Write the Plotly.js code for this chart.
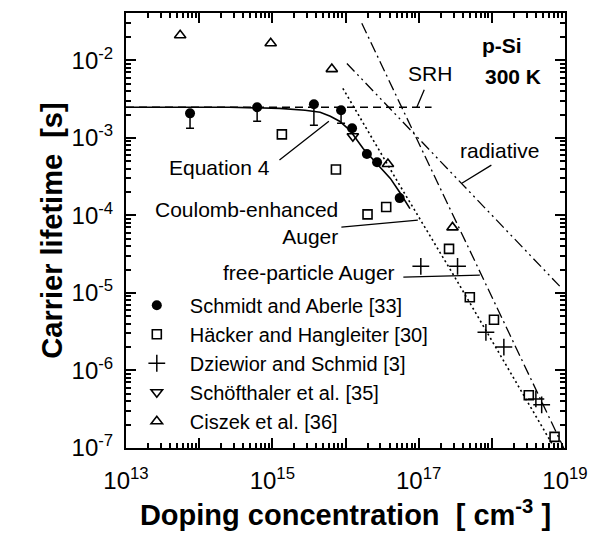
<!DOCTYPE html>
<html>
<head>
<meta charset="utf-8">
<script src="https://cdn.plot.ly/plotly-3.0.1.min.js"></script>
<style>html,body{margin:0;padding:0;background:#fff;}#chart{width:592px;height:552px;}</style>
</head>
<body>
<div id="chart"></div>
<script>
// ---------- data ----------
// Schmidt and Aberle [33] (filled circles, downward error bars)
const schmidtN   = [7.5e13, 6.2e14, 3.7e15, 8.7e15, 1.23e16, 1.96e16, 2.7e16, 5.5e16];
const schmidtTau = [2.07e-3, 2.48e-3, 2.71e-3, 2.27e-3, 1.33e-3, 6.2e-4, 4.85e-4, 1.67e-4];
const schmidtErrMinus = [0.74e-3, 0.84e-3, 1.26e-3, 0.73e-3, 0, 0, 0, 0];
const schmidtErrPlus  = [0, 0, 0, 0, 0, 0, 0, 0];
// Häcker and Hangleiter [30] (open squares)
const hackerN   = [1.35e15, 7.4e15, 2.0e16, 3.6e16, 2.6e17, 5.0e17, 1.07e18, 3.2e18, 7.2e18];
const hackerTau = [1.11e-3, 3.9e-4, 1.03e-4, 1.28e-4, 3.7e-5, 8.8e-6, 4.5e-6, 4.8e-7, 1.39e-7];
// Dziewior and Schmid [3] (plus)
const dziewiorN   = [1.07e17, 3.4e17, 8.3e17, 1.46e18, 4.0e18, 4.8e18];
const dziewiorTau = [2.2e-5, 2.2e-5, 3.1e-6, 2.0e-6, 4.3e-7, 3.6e-7];
// Schöfthaler et al. [35] (open down-triangle)
const schoefN   = [1.26e16];
const schoefTau = [1.05e-3];
// Ciszek et al. [36] (open up-triangle)
const ciszekN   = [5.5e13, 9.5e14, 6.5e15, 3.8e16, 2.9e17];
const ciszekTau = [2.1e-2, 1.66e-2, 7.7e-3, 4.6e-4, 7.0e-5];

// model curves
const srhN   = [1e13, 1.5e17];
const srhTau = [2.48e-3, 2.48e-3];
const eq4N   = [1e13, 2.6e14, 1.26e15, 2.8e15, 4.5e15, 6.2e15, 8.3e15, 1.15e16, 1.74e16, 2.7e16, 4.1e16, 5.5e16, 7.6e16];
const eq4Tau = [2.48e-3, 2.48e-3, 2.40e-3, 2.27e-3, 2.14e-3, 1.90e-3, 1.64e-3, 1.25e-3, 7.3e-4, 4.7e-4, 3.0e-4, 1.99e-4, 1.22e-4];
const coulombN   = [9.2e15, 5.5e16, 3.3e17, 6.8e18];
const coulombTau = [4.35e-3, 2.45e-4, 1.46e-5, 1.09e-7];
const freeAugerN   = [1.67e16, 9.6e18];
const freeAugerTau = [3.0e-2, 1.0e-7];
const radiativeN   = [1.045e16, 9.0e18];
const radiativeTau = [9.1e-3, 1.15e-5];

// axis ticks
const xTickVals = [1e13, 1e14, 1e15, 1e16, 1e17, 1e18, 1e19];
const xTickText = ['10<sup>13</sup>', ' ', '10<sup>15</sup>', ' ', '10<sup>17</sup>', ' ', '10<sup>19</sup>'];
const yTickVals = [1e-7, 1e-6, 1e-5, 1e-4, 1e-3, 1e-2];
const yTickText = ['10<sup>-7</sup>', '10<sup>-6</sup>', '10<sup>-5</sup>', '10<sup>-4</sup>', '10<sup>-3</sup>', '10<sup>-2</sup>'];

const legendNames = ['Schmidt and Aberle [33]', 'Häcker and Hangleiter [30]', 'Dziewior and Schmid [3]', 'Schöfthaler et al. [35]', 'Ciszek et al. [36]'];

// ---------- helpers ----------
const FONT = 'Liberation Sans, Arial, Helvetica, sans-serif';
const X_RANGE = [13, 19];
const Y_RANGE = [-7, -1.39];
const line = (x, y, dash, w) => ({x, y, type: 'scatter', mode: 'lines', showlegend: false, hoverinfo: 'skip',
  line: {color: 'black', width: w || 1.4, dash: dash}});
const pts = (x, y, name, marker, extra) => Object.assign({x, y, name, type: 'scatter', mode: 'markers',
  xaxis: 'x2', yaxis: 'y2', marker}, extra || {});

const traces = [
  line(srhN, srhTau, '8px,5px', 1.3),
  line(radiativeN, radiativeTau, '11px,4px,2px,4px,2px,4px', 1.3),
  line(freeAugerN, freeAugerTau, '11px,4px,2px,4px', 1.3),
  line(coulombN, coulombTau, '2px,3px', 1.6),
  line(eq4N, eq4Tau, 'solid', 1.6),
  pts(schmidtN, schmidtTau, legendNames[0], {symbol: 'circle', size: 10, color: 'black'},
      {error_y: {type: 'data', symmetric: false, array: schmidtErrPlus, arrayminus: schmidtErrMinus,
                 color: 'black', thickness: 1.5, width: 4}}),
  pts(hackerN, hackerTau, legendNames[1], {symbol: 'square-open', size: 9, color: 'black', line: {width: 1.6}}),
  pts(dziewiorN, dziewiorTau, legendNames[2], {symbol: 'cross-thin-open', size: 12, color: 'black', line: {width: 1.5, color: 'black'}}),
  pts(schoefN, schoefTau, legendNames[3], {symbol: 'triangle-down-open', size: 10, color: 'black', line: {width: 1.6}}),
  pts(ciszekN, ciszekTau, legendNames[4], {symbol: 'triangle-up-open', size: 10, color: 'black', line: {width: 1.6}})
];

const txt = (text, x, y, opts) => Object.assign({text, x, y, xref: 'x', yref: 'y', showarrow: false,
  font: {family: FONT, size: 21, color: 'black'}}, opts || {});
const ptr = (x, y, ax, ay) => ({text: '', x, y, ax, ay, xref: 'x', yref: 'y', axref: 'x', ayref: 'y',
  showarrow: true, arrowhead: 0, arrowwidth: 1.3, arrowcolor: 'black', standoff: 0, startstandoff: 0,
  font: {size: 1}});

const annotations = [
  txt('Equation 4', 14.284, -3.379),
  ptr(15.773, -2.786, 15.077, -3.302),
  txt('Coulomb-enhanced<br>Auger', 15.923, -4.10, {xanchor: 'right', align: 'right'}),
  ptr(16.989, -4.062, 15.923, -4.152),
  txt('free-particle Auger', 16.702, -4.732, {xanchor: 'right'}),
  ptr(17.836, -4.771, 16.770, -4.796),
  txt('SRH', 17.153, -2.168),
  ptr(16.975, -2.606, 17.085, -2.361),
  txt('radiative', 18.109, -3.160),
  ptr(17.590, -3.585, 18.014, -3.340),
  txt('<b>p-Si</b>', 18.137, -1.807),
  txt('<b>300 K</b>', 18.287, -2.206)
];

// main axes: frame, labels and titles (invisible outside ticks only push the labels away)
const labelAxis = {
  type: 'log', showgrid: false, zeroline: false,
  showline: true, linecolor: 'black', linewidth: 2, mirror: true,
  ticks: 'outside', tickcolor: 'rgba(0,0,0,0)', tickwidth: 1,
  tickmode: 'array',
  tickfont: {family: FONT, size: 24, color: 'black'}
};
// overlay axes: the visible inside tick marks (major + minor), mirrored on all sides
const tickAxis = {
  type: 'log', showgrid: false, zeroline: false, showticklabels: false,
  showline: false, mirror: 'ticks',
  ticks: 'inside', ticklen: 10, tickwidth: 2, tickcolor: '#000000', tickmode: 'array',
  minor: {ticks: 'inside', ticklen: 5, tickwidth: 1.5, tickcolor: '#000000', dtick: 'D1', showgrid: false}
};

const layout = {
  width: 592, height: 552,
  margin: {l: 126, r: 27, t: 13, b: 104},
  paper_bgcolor: 'white', plot_bgcolor: 'rgba(0,0,0,0)',
  font: {family: FONT, color: 'black'},
  showlegend: true,
  legend: {x: -0.005, xanchor: 'left', y: 0.373, yanchor: 'top',
           bgcolor: 'rgba(0,0,0,0)', borderwidth: 0, itemwidth: 56,
           font: {family: FONT, size: 20, color: 'black'}},
  xaxis: Object.assign({}, labelAxis, {
    range: X_RANGE, tickvals: xTickVals, ticktext: xTickText, ticklen: 10,
    title: {text: '<b>Doping concentration  [ cm<sup>-3</sup> ]</b>', font: {family: FONT, size: 29, color: 'black'}, standoff: 12}
  }),
  yaxis: Object.assign({}, labelAxis, {
    range: Y_RANGE, tickvals: yTickVals, ticktext: yTickText, ticklen: 6,
    title: {text: '<b>Carrier lifetime  [s]</b>', font: {family: FONT, size: 29, color: 'black'}, standoff: 0}
  }),
  xaxis2: Object.assign({}, tickAxis, {range: X_RANGE, tickvals: xTickVals, overlaying: 'x', anchor: 'y2', side: 'bottom'}),
  yaxis2: Object.assign({}, tickAxis, {range: Y_RANGE, tickvals: yTickVals, overlaying: 'y', anchor: 'x2', side: 'left'}),
  annotations: annotations
};

Plotly.newPlot('chart', traces, layout, {displayModeBar: false});
</script>
</body>
</html>
